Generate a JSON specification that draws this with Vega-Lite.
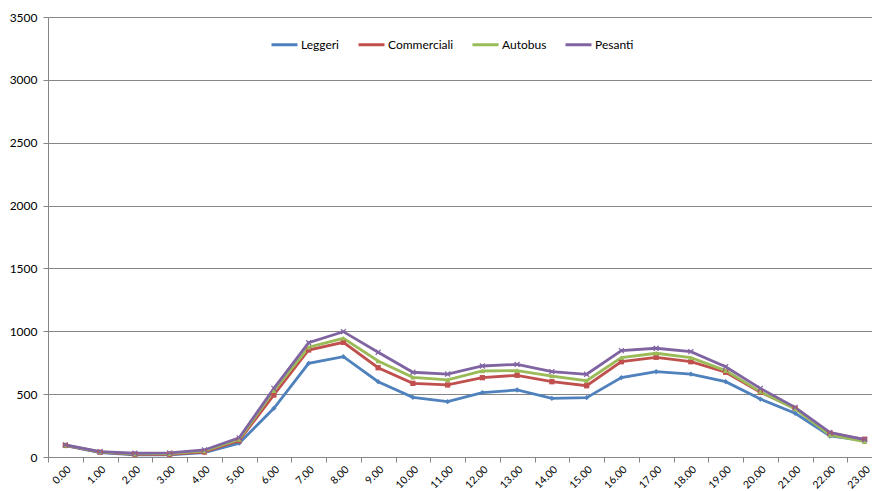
{
  "$schema": "https://vega.github.io/schema/vega-lite/v6.json",
  "autosize": "none",
  "width": 834,
  "height": 440,
  "padding": {"left": 48, "top": 17, "right": 0, "bottom": 34},
  "background": "white",
  "config": {
    "view": {"stroke": null},
    "font": "Lato",
    "axis": {"labelFont": "Lato", "labelColor": "#000000", "domainColor": "#868686", "tickColor": "#868686", "gridColor": "#868686"},
    "legend": {"labelFont": "Lato"}
  },
  "data": {
    "values": [
      {"ora": "0.00", "serie": "Leggeri", "v": 90}, {"ora": "1.00", "serie": "Leggeri", "v": 35}, {"ora": "2.00", "serie": "Leggeri", "v": 18}, {"ora": "3.00", "serie": "Leggeri", "v": 18}, {"ora": "4.00", "serie": "Leggeri", "v": 35}, {"ora": "5.00", "serie": "Leggeri", "v": 110},
      {"ora": "6.00", "serie": "Leggeri", "v": 387}, {"ora": "7.00", "serie": "Leggeri", "v": 745}, {"ora": "8.00", "serie": "Leggeri", "v": 798}, {"ora": "9.00", "serie": "Leggeri", "v": 599}, {"ora": "10.00", "serie": "Leggeri", "v": 475}, {"ora": "11.00", "serie": "Leggeri", "v": 440},
      {"ora": "12.00", "serie": "Leggeri", "v": 512}, {"ora": "13.00", "serie": "Leggeri", "v": 533}, {"ora": "14.00", "serie": "Leggeri", "v": 467}, {"ora": "15.00", "serie": "Leggeri", "v": 472}, {"ora": "16.00", "serie": "Leggeri", "v": 632}, {"ora": "17.00", "serie": "Leggeri", "v": 679},
      {"ora": "18.00", "serie": "Leggeri", "v": 660}, {"ora": "19.00", "serie": "Leggeri", "v": 599}, {"ora": "20.00", "serie": "Leggeri", "v": 461}, {"ora": "21.00", "serie": "Leggeri", "v": 348}, {"ora": "22.00", "serie": "Leggeri", "v": 167}, {"ora": "23.00", "serie": "Leggeri", "v": 130},
      {"ora": "0.00", "serie": "Commerciali", "v": 92}, {"ora": "1.00", "serie": "Commerciali", "v": 38}, {"ora": "2.00", "serie": "Commerciali", "v": 22}, {"ora": "3.00", "serie": "Commerciali", "v": 22}, {"ora": "4.00", "serie": "Commerciali", "v": 40}, {"ora": "5.00", "serie": "Commerciali", "v": 130},
      {"ora": "6.00", "serie": "Commerciali", "v": 493}, {"ora": "7.00", "serie": "Commerciali", "v": 851}, {"ora": "8.00", "serie": "Commerciali", "v": 912}, {"ora": "9.00", "serie": "Commerciali", "v": 710}, {"ora": "10.00", "serie": "Commerciali", "v": 586}, {"ora": "11.00", "serie": "Commerciali", "v": 573},
      {"ora": "12.00", "serie": "Commerciali", "v": 631}, {"ora": "13.00", "serie": "Commerciali", "v": 650}, {"ora": "14.00", "serie": "Commerciali", "v": 599}, {"ora": "15.00", "serie": "Commerciali", "v": 567}, {"ora": "16.00", "serie": "Commerciali", "v": 758}, {"ora": "17.00", "serie": "Commerciali", "v": 793},
      {"ora": "18.00", "serie": "Commerciali", "v": 758}, {"ora": "19.00", "serie": "Commerciali", "v": 674}, {"ora": "20.00", "serie": "Commerciali", "v": 515}, {"ora": "21.00", "serie": "Commerciali", "v": 387}, {"ora": "22.00", "serie": "Commerciali", "v": 188}, {"ora": "23.00", "serie": "Commerciali", "v": 141},
      {"ora": "0.00", "serie": "Autobus", "v": 94}, {"ora": "1.00", "serie": "Autobus", "v": 40}, {"ora": "2.00", "serie": "Autobus", "v": 25}, {"ora": "3.00", "serie": "Autobus", "v": 27}, {"ora": "4.00", "serie": "Autobus", "v": 48}, {"ora": "5.00", "serie": "Autobus", "v": 140},
      {"ora": "6.00", "serie": "Autobus", "v": 528}, {"ora": "7.00", "serie": "Autobus", "v": 873}, {"ora": "8.00", "serie": "Autobus", "v": 944}, {"ora": "9.00", "serie": "Autobus", "v": 764}, {"ora": "10.00", "serie": "Autobus", "v": 634}, {"ora": "11.00", "serie": "Autobus", "v": 613},
      {"ora": "12.00", "serie": "Autobus", "v": 684}, {"ora": "13.00", "serie": "Autobus", "v": 687}, {"ora": "14.00", "serie": "Autobus", "v": 644}, {"ora": "15.00", "serie": "Autobus", "v": 607}, {"ora": "16.00", "serie": "Autobus", "v": 790}, {"ora": "17.00", "serie": "Autobus", "v": 825},
      {"ora": "18.00", "serie": "Autobus", "v": 790}, {"ora": "19.00", "serie": "Autobus", "v": 687}, {"ora": "20.00", "serie": "Autobus", "v": 520}, {"ora": "21.00", "serie": "Autobus", "v": 382}, {"ora": "22.00", "serie": "Autobus", "v": 175}, {"ora": "23.00", "serie": "Autobus", "v": 122},
      {"ora": "0.00", "serie": "Pesanti", "v": 97}, {"ora": "1.00", "serie": "Pesanti", "v": 42}, {"ora": "2.00", "serie": "Pesanti", "v": 30}, {"ora": "3.00", "serie": "Pesanti", "v": 33}, {"ora": "4.00", "serie": "Pesanti", "v": 56}, {"ora": "5.00", "serie": "Pesanti", "v": 152},
      {"ora": "6.00", "serie": "Pesanti", "v": 546}, {"ora": "7.00", "serie": "Pesanti", "v": 909}, {"ora": "8.00", "serie": "Pesanti", "v": 997}, {"ora": "9.00", "serie": "Pesanti", "v": 833}, {"ora": "10.00", "serie": "Pesanti", "v": 674}, {"ora": "11.00", "serie": "Pesanti", "v": 660},
      {"ora": "12.00", "serie": "Pesanti", "v": 724}, {"ora": "13.00", "serie": "Pesanti", "v": 737}, {"ora": "14.00", "serie": "Pesanti", "v": 679}, {"ora": "15.00", "serie": "Pesanti", "v": 658}, {"ora": "16.00", "serie": "Pesanti", "v": 846}, {"ora": "17.00", "serie": "Pesanti", "v": 865},
      {"ora": "18.00", "serie": "Pesanti", "v": 838}, {"ora": "19.00", "serie": "Pesanti", "v": 718}, {"ora": "20.00", "serie": "Pesanti", "v": 546}, {"ora": "21.00", "serie": "Pesanti", "v": 395}, {"ora": "22.00", "serie": "Pesanti", "v": 196}, {"ora": "23.00", "serie": "Pesanti", "v": 139}
    ]
  },
  "encoding": {
    "x": {
      "field": "ora", "type": "ordinal", "sort": null, "bandPosition": 0.5,
      "scale": {"type": "band", "paddingInner": 0, "paddingOuter": 0},
      "axis": {"title": null, "labelAngle": -45, "labelFontSize": 10.5, "tickBand": "extent", "tickSize": 5, "labelPadding": 2, "grid": false, "domainWidth": 1}
    },
    "y": {
      "field": "v", "type": "quantitative",
      "scale": {"domain": [0, 3500]},
      "axis": {"title": null, "format": "d", "values": [0, 500, 1000, 1500, 2000, 2500, 3000, 3500], "labelFontSize": 12, "tickSize": 5, "labelPadding": 6, "grid": true, "gridWidth": 1}
    },
    "color": {
      "field": "serie", "type": "nominal",
      "sort": ["Leggeri", "Commerciali", "Autobus", "Pesanti"],
      "scale": {"domain": ["Leggeri", "Commerciali", "Autobus", "Pesanti"], "range": ["#4F81BD", "#C0504D", "#9BBB59", "#8064A2"]},
      "legend": {
        "title": null, "orient": "none", "direction": "horizontal", "legendX": 222, "legendY": 13,
        "symbolType": "stroke", "symbolSize": 676, "symbolStrokeWidth": 3, "labelFontSize": 12, "labelOffset": 2, "columnPadding": 12
      }
    }
  },
  "layer": [
    {"mark": {"type": "line", "strokeWidth": 2.8}},
    {"transform": [{"filter": "datum.serie == 'Leggeri'"}], "mark": {"type": "point", "filled": true, "size": 28, "opacity": 1, "shape": "diamond"}},
    {"transform": [{"filter": "datum.serie == 'Commerciali'"}], "mark": {"type": "point", "filled": true, "size": 28, "opacity": 1, "shape": "square"}},
    {"transform": [{"filter": "datum.serie == 'Autobus'"}], "mark": {"type": "point", "filled": true, "size": 28, "opacity": 1, "shape": "triangle-up"}},
    {"transform": [{"filter": "datum.serie == 'Pesanti'"}], "mark": {"type": "point", "filled": true, "size": 34, "opacity": 1, "shape": "M-1,-0.7L-0.7,-1L0,-0.3L0.7,-1L1,-0.7L0.3,0L1,0.7L0.7,1L0,0.3L-0.7,1L-1,0.7L-0.3,0Z"}}
  ]
}
